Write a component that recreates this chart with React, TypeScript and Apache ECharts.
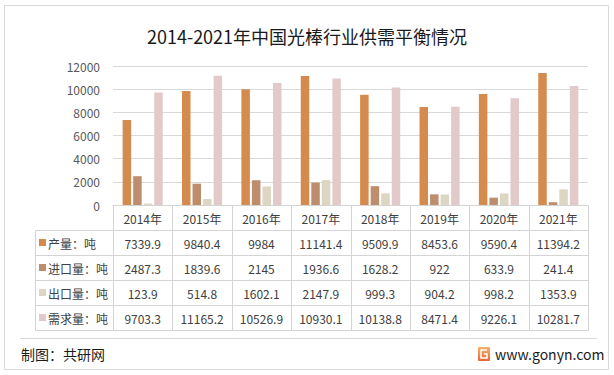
import React, { useEffect, useRef } from "react";
import * as echarts from "echarts";

const categories = ["2014年", "2015年", "2016年", "2017年", "2018年", "2019年", "2020年", "2021年"];
const production = [7339.9, 9840.4, 9984, 11141.4, 9509.9, 8453.6, 9590.4, 11394.2];
const imports = [2487.3, 1839.6, 2145, 1936.6, 1628.2, 922, 633.9, 241.4];
const exportsData = [123.9, 514.8, 1602.1, 2147.9, 999.3, 904.2, 998.2, 1353.9];
const demand = [9703.3, 11165.2, 10526.9, 10930.1, 10138.8, 8471.4, 9226.1, 10281.7];
const seriesNames = ["产量：吨", "进口量：吨", "出口量：吨", "需求量：吨"];
const colors = ["#D58B4E", "#BE8D6E", "#DDD6C3", "#E3CACA"];
const titleText = "2014-2021年中国光棒行业供需平衡情况";
const sourceText = "制图：共研网";
const siteText = "www.gonyn.com";

const FONT = "'Noto Sans CJK SC', 'Noto Sans', sans-serif";

export default function App() {
  const ref = useRef<HTMLDivElement>(null);
  useEffect(() => {
    if (!ref.current) return;
    const chart = echarts.init(ref.current, undefined, { renderer: "svg" });
    const gridLeft = 113;
    const gridRight = 588;
    const gridTop = 66;
    const gridBottom = 205;
    const rowH = 25;
    const tableLeft = 35;
    const allSeries = [production, imports, exportsData, demand];

    chart.setOption({
      animation: false,
      backgroundColor: "#ffffff",
      textStyle: { fontFamily: FONT },
      title: {
        text: titleText,
        left: "center",
        top: 22,
        textStyle: { fontSize: 18, fontWeight: "normal", color: "#1a1a1a", fontFamily: FONT },
      },
      grid: { left: gridLeft, right: 614 - gridRight, top: gridTop, bottom: 375 - gridBottom },
      xAxis: {
        type: "category",
        data: categories,
        axisLine: { show: true, lineStyle: { color: "#D4D4D4" } },
        axisTick: { show: false },
        axisLabel: { color: "#404040", fontSize: 12, margin: 7, fontFamily: FONT },
      },
      yAxis: {
        type: "value",
        min: 0,
        max: 12000,
        interval: 2000,
        axisLine: { show: false },
        axisTick: { show: false },
        axisLabel: { color: "#595959", fontSize: 12, margin: 13, fontFamily: FONT, formatter: (v: number) => String(v) },
        splitLine: { lineStyle: { color: "#D9D9D9" } },
      },
      series: allSeries.map((d, i) => ({
        name: seriesNames[i],
        type: "bar",
        data: d,
        barWidth: 8.5,
        barGap: "24%",
        itemStyle: { color: colors[i] },
      })),
    });

    const xs = categories.map((c) => chart.convertToPixel({ xAxisIndex: 0 }, c) as number);
    const band = (gridRight - gridLeft) / categories.length;
    const lineColor = "#D4D4D4";
    const els: any[] = [];
    const ln = (x1: number, y1: number, x2: number, y2: number, c = lineColor) =>
      els.push({ type: "line", silent: true, shape: { x1, y1, x2, y2 }, style: { stroke: c, lineWidth: 1 } });

    // outer frame
    els.push({ type: "rect", shape: { x: 4.5, y: 5.5, width: 604, height: 364 }, style: { fill: "none", stroke: "#D9D9D9", lineWidth: 1 } });

    // table grid
    const yTop = gridBottom + 0.5;
    for (let r = 1; r <= 5; r++) {
      const y = gridBottom + r * rowH + 0.5;
      ln(tableLeft + 0.5, y, gridRight + 0.5, y);
    }
    for (let i = 0; i <= categories.length; i++) {
      const x = Math.round(xs[0] - band / 2 + i * band) + 0.5;
      ln(x, yTop, x, gridBottom + 5 * rowH + 0.5);
    }
    ln(tableLeft + 0.5, gridBottom + rowH + 0.5, tableLeft + 0.5, gridBottom + 5 * rowH + 0.5);

    allSeries.forEach((d, r) => {
      const cy = gridBottom + rowH * (r + 1) + rowH / 2 + 0.5;
      els.push({ type: "rect", shape: { x: 39, y: cy - 4, width: 7, height: 7 }, style: { fill: colors[r] } });
      els.push({
        type: "text",
        x: 48,
        y: cy,
        style: { text: seriesNames[r], fill: "#404040", font: `12px ${FONT}`, align: "left", verticalAlign: "middle", textAlign: "left", textVerticalAlign: "middle" },
      });
      d.forEach((v, i) => {
        els.push({
          type: "text",
          x: xs[i],
          y: cy,
          style: { text: String(v), fill: "#404040", font: `12px ${FONT}`, align: "center", verticalAlign: "middle", textAlign: "center", textVerticalAlign: "middle" },
        });
      });
    });

    // footer
    ln(20, 338.5, 597, 338.5, "#D9D9D9");
    els.push({
      type: "text",
      x: 21,
      y: 354,
      style: { text: sourceText, fill: "#1a1a1a", font: `14px ${FONT}`, align: "left", verticalAlign: "middle", textAlign: "left", textVerticalAlign: "middle" },
    });
    els.push({
      type: "rect",
      shape: { x: 478, y: 347, width: 12, height: 14, r: 1 },
      style: {
        fill: new echarts.graphic.LinearGradient(0, 0, 0, 1, [
          { offset: 0, color: "#F7B267" },
          { offset: 1, color: "#E8663C" },
        ]),
      },
    });
    els.push({ type: "polyline", shape: { points: [[487, 350], [481, 350], [481, 358], [487, 358], [487, 354], [484, 354]] }, style: { stroke: "#ffffff", lineWidth: 1.5, fill: "none" } });
    els.push({
      type: "text",
      x: 495,
      y: 354,
      style: { text: siteText, fill: "#1a1a1a", font: `14px ${FONT}`, align: "left", verticalAlign: "middle", textAlign: "left", textVerticalAlign: "middle" },
    });

    chart.setOption({ graphic: { elements: els } });
    return () => chart.dispose();
  }, []);
  return <div ref={ref} style={{ position: "absolute", left: 0, top: 0, width: 614, height: 375 }} />;
}
